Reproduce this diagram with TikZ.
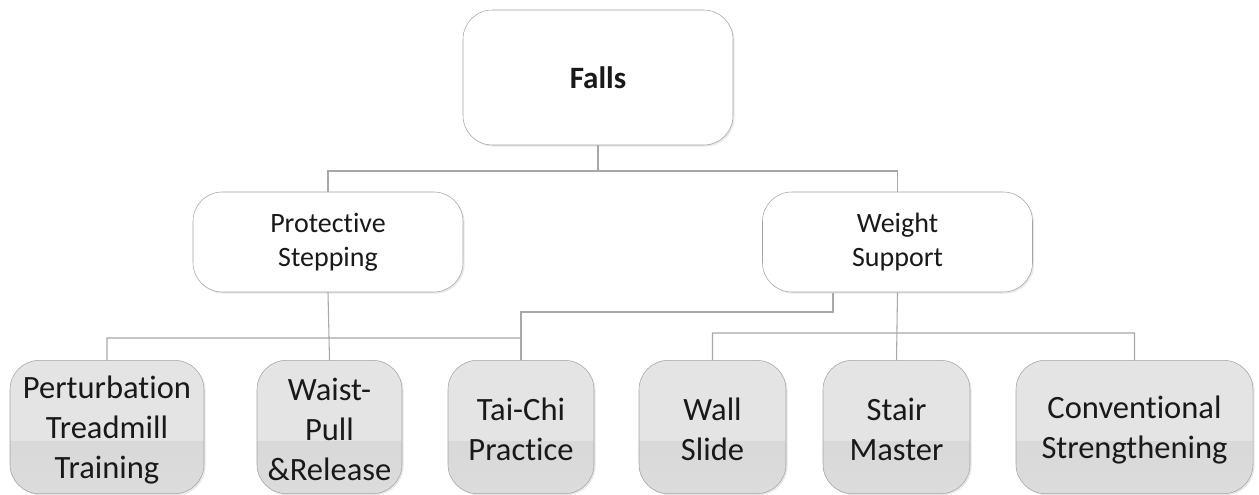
\documentclass[tikz,border=0pt]{standalone}
\usepackage{fontspec}
\setmainfont{Carlito}[Ligatures=NoCommon]
\usepackage{tikz}
\usetikzlibrary{shapes,positioning,calc,shadows}

\definecolor{boxline}{HTML}{A3A3A3}
\definecolor{connline}{HTML}{A8A8A8}
\definecolor{uppergray}{HTML}{E4E4E4}
\definecolor{lowergray}{HTML}{D3D3D3}
\definecolor{lowergraytwo}{HTML}{DCDCDC}

\begin{document}
\begin{tikzpicture}[x=0.75pt,y=-0.75pt,
		topbox/.style={draw=boxline,
			fill=white,
			rounded corners=22pt,
			align=center,
			drop shadow={shadow xshift=1.2pt,shadow yshift=-1.2pt,opacity=0.18},
			text=black!90},
		midbox/.style={topbox,
			font=\fontsize{21pt}{25.5pt}\selectfont,
			minimum width=202.5pt,
			minimum height=75pt},
		leafbox/.style={draw=boxline,
			fill=uppergray,
			rounded corners=22pt,
			align=center,
			minimum height=100pt,
			text=black!90,
			font=\fontsize{24.4pt}{30pt}\selectfont,
			drop shadow={shadow xshift=1.2pt,shadow yshift=-1.2pt,opacity=0.18},
			path picture={\shade[sharp corners,top color=lowergray,bottom color=lowergraytwo]
				(path picture bounding box.south west) rectangle
				([yshift=39pt]path picture bounding box.south east);}},
		link/.style={draw=connline,line width=0.8pt}]

		\useasboundingbox (0,0) rectangle (1259,495);

		\node[topbox,
			font=\bfseries\fontsize{23.3pt}{28pt}\selectfont,
			minimum width=202.5pt,
			minimum height=101.25pt] (falls) at (598,77.5) {Falls};

		\node[midbox] (protect) at (328,242) {Protective\\Stepping};
		\node[midbox] (weight) at (897.5,242) {Weight\\Support};

		\node[leafbox,minimum width=145.5pt] (pert) at (107,427) {\strut Perturbation\\Treadmill\\Training};
		\node[leafbox,minimum width=108.75pt] (waist) at (329.5,427) {\strut Waist-\\Pull\\\&Release};
		\node[leafbox,minimum width=109.5pt] (taichi) at (521,427) {\strut Tai-Chi\\Practice};
		\node[leafbox,minimum width=110.25pt] (wall) at (712.5,427) {\strut Wall\\Slide};
		\node[leafbox,minimum width=110.25pt] (stair) at (896.5,427) {\strut Stair\\Master};
		\node[leafbox,minimum width=177.75pt] (conv) at (1134.5,427) {\strut Conventional\\Strengthening};

		\coordinate (fallsjoin) at (598,171);
		\coordinate (protectjoin) at (329.5,338);
		\coordinate (weightjoin) at (897,333);
		\coordinate (weightout) at (833,293);

		\draw[link] (falls.south) -- (fallsjoin)
		(protect.north) |- (fallsjoin) -| (weight.north);
		\draw[link] (protect.south) -- (waist.north)
		(pert.north) |- (protectjoin) -| (taichi.north);
		\draw[link] (weightout) -- ++(0,19) -| (taichi.north);
		\draw[link] (weight.south) -- (stair.north)
		(wall.north) |- (weightjoin) -| (conv.north);

	\end{tikzpicture}
\end{document}
